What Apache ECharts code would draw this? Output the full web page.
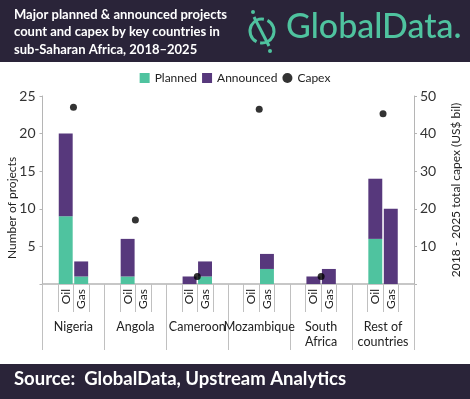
<!DOCTYPE html>
<html>
<head>
<meta charset="utf-8">
<script src="https://cdn.jsdelivr.net/npm/echarts@6/dist/echarts.min.js"></script>
<style>
  html, body { margin: 0; padding: 0; background: #fff; }
  #chart { width: 470px; height: 399px; }
</style>
</head>
<body>
<div id="chart"></div>
<script>
// one group of four slots per country: blank, Oil, Gas, blank
const countries = ['Nigeria', 'Angola', 'Cameroon', 'Mozambique', 'South\nAfrica', 'Rest of\ncountries'];
const fuels = ['Oil', 'Gas'];
const plannedOil = [9, 1, 0, 0, 0, 6];
const plannedGas = [1, 0, 1, 2, 0, 0];
const announcedOil = [11, 5, 1, 0, 1, 8];
const announcedGas = [2, 0, 2, 2, 2, 10];
const capex = [47, 17, 2, 46.5, 2, 45.3];

const TEAL = '#4fc39f';
const PURPLE = '#57387c';
const DARK = '#2a2439';
const FONT = 'Lato';

// build slot arrays from the per-country lists
const slots = [];
const planned = [];
const announced = [];
countries.forEach((c, i) => {
  slots.push('', fuels[0], fuels[1], '');
  planned.push(null, plannedOil[i], plannedGas[i], null);
  announced.push(null, announcedOil[i], announcedGas[i], null);
});

const chart = echarts.init(document.getElementById('chart'));

const option = {
  animation: false,
  textStyle: { fontFamily: FONT },
  graphic: [
    { type: 'rect', shape: { x: 0, y: 0, width: 470, height: 62 }, style: { fill: DARK } },
    { type: 'text', left: 14, top: 6, style: {
        text: 'Major planned & announced projects\ncount and capex by key countries in\nsub-Saharan Africa, 2018\u20132025',
        fill: '#fff', font: 'bold 13px ' + FONT, lineHeight: 17.5 } },
    // logo icon
    { type: 'arc', shape: { cx: 262, cy: 31, r: 12, startAngle: -Math.PI * 0.35, endAngle: Math.PI * 0.55, clockwise: true },
      style: { stroke: TEAL, lineWidth: 3, fill: null } },
    { type: 'arc', shape: { cx: 262, cy: 31, r: 12, startAngle: Math.PI * 0.65, endAngle: Math.PI * 1.55, clockwise: true },
      style: { stroke: TEAL, lineWidth: 3, fill: null } },
    { type: 'line', shape: { x1: 254, y1: 17, x2: 269, y2: 46 }, style: { stroke: TEAL, lineWidth: 3 } },
    { type: 'circle', shape: { cx: 253, cy: 12, r: 2 }, style: { fill: TEAL } },
    { type: 'circle', shape: { cx: 270, cy: 51, r: 2 }, style: { fill: TEAL } },
    { type: 'text', left: 286, top: 10, style: {
        text: 'GlobalData.', fill: TEAL, font: '500 34px ' + FONT } },
    // left axis title sits a little below the axis middle in the original
    { type: 'text', x: 12, y: 208, rotation: Math.PI / 2, style: {
        text: 'Number of projects', fill: '#222', font: '12px ' + FONT, align: 'center', verticalAlign: 'middle' } },
    { type: 'rect', shape: { x: 0, y: 364, width: 470, height: 35 }, style: { fill: DARK } },
    { type: 'text', left: 14, top: 370, style: {
        text: 'Source:  GlobalData, Upstream Analytics', fill: '#fff', font: 'bold 18.5px ' + FONT } }
  ],
  legend: {
    top: 67, left: 'center',
    itemWidth: 10, itemHeight: 10, itemGap: 5,
    textStyle: { fontSize: 12, color: '#222', fontFamily: FONT },
    data: [
      { name: 'Planned', icon: 'rect' },
      { name: 'Announced', icon: 'rect' },
      { name: 'Capex', icon: 'circle' }
    ]
  },
  grid: { left: 42.5, right: 47.5, top: 96, bottom: 115 },
  xAxis: [
    {
      type: 'category', data: slots, position: 'bottom',
      axisLine: { show: true, lineStyle: { color: '#b5b5b5', width: 1.5 } },
      axisTick: { show: true, length: 28, lineStyle: { color: '#c0c0c0' },
        interval: (i) => i % 4 !== 0 },
      axisLabel: { rotate: 90, interval: 0, fontSize: 12, color: '#222', margin: 5 }
    },
    {
      type: 'category', data: countries, position: 'bottom',
      axisLine: { show: false },
      axisTick: { show: true, length: 66, lineStyle: { color: '#c0c0c0' } },
      axisLabel: { interval: 0, fontSize: 12.5, color: '#222', margin: 36, lineHeight: 14.5 }
    }
  ],
  yAxis: [
    {
      type: 'value', min: 0, max: 25, interval: 5,
      axisLine: { show: true, lineStyle: { color: '#b5b5b5' } },
      axisTick: { show: true, length: 3, lineStyle: { color: '#b5b5b5' } },
      axisLabel: { fontSize: 14, color: '#333', margin: 7, formatter: v => v === 0 ? '' : v },
      splitLine: { show: false }
    },
    {
      type: 'value', min: 0, max: 50, interval: 10, position: 'right',
      name: '2018 - 2025 total capex (US$ bil)', nameLocation: 'middle', nameGap: 36,
      nameTextStyle: { fontSize: 12, color: '#222' },
      axisLine: { show: true, lineStyle: { color: '#b5b5b5' } },
      axisTick: { show: true, length: 3, lineStyle: { color: '#b5b5b5' } },
      axisLabel: { fontSize: 14, color: '#333', margin: 6, formatter: v => v === 0 ? '' : v },
      splitLine: { show: false }
    }
  ],
  series: [
    { name: 'Planned', type: 'bar', stack: 'p', data: planned, xAxisIndex: 0, yAxisIndex: 0,
      barCategoryGap: '10%', itemStyle: { color: TEAL } },
    { name: 'Announced', type: 'bar', stack: 'p', data: announced, xAxisIndex: 0, yAxisIndex: 0,
      barCategoryGap: '10%', itemStyle: { color: PURPLE } },
    { name: 'Capex', type: 'scatter', data: capex, xAxisIndex: 1, yAxisIndex: 1,
      symbolSize: 7, itemStyle: { color: '#000' } }
  ]
};

chart.setOption(option);
</script>
</body>
</html>
